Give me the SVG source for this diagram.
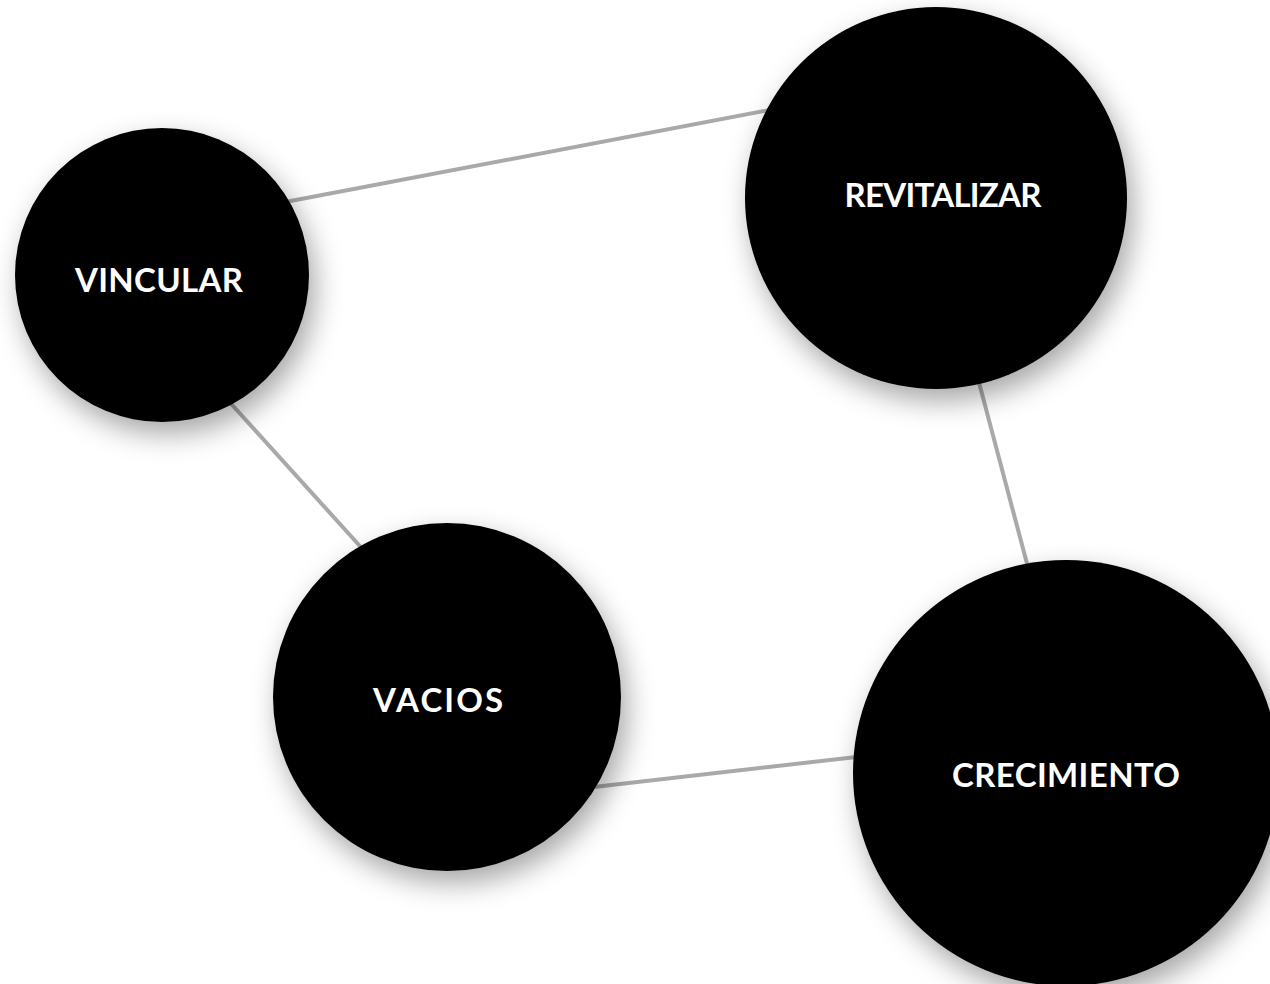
<svg xmlns="http://www.w3.org/2000/svg" width="1270" height="984" viewBox="0 0 1270 984">
<defs>
<filter id="sh" x="-40%" y="-40%" width="180%" height="180%">
<feDropShadow dx="6" dy="12" stdDeviation="14" flood-color="#000" flood-opacity="0.35"/>
</filter>
<style>
.node{fill:#000;filter:url(#sh)}
.lbl{fill:#fff;font-family:Lato,"Liberation Sans",sans-serif;font-weight:700;font-size:33px;text-anchor:middle}
.edge{stroke:#a9a9a9;stroke-width:4;fill:none}
</style>
</defs>
<rect width="1270" height="984" fill="#fff"/>
<g id="connectors">
<line class="edge" x1="280" y1="203" x2="780" y2="108"/>
<line class="edge" x1="225" y1="397" x2="368" y2="555"/>
<line class="edge" x1="977" y1="375" x2="1030" y2="575"/>
<line class="edge" x1="585" y1="788" x2="865" y2="756"/>
</g>
<g id="vincular">
<circle class="node" cx="162" cy="275" r="147"/>
<text class="lbl" x="159" y="292" textLength="168" lengthAdjust="spacing">VINCULAR</text>
</g>
<g id="revitalizar">
<circle class="node" cx="936" cy="198" r="191"/>
<text class="lbl" x="943" y="207" textLength="197" lengthAdjust="spacing">REVITALIZAR</text>
</g>
<g id="vacios">
<circle class="node" cx="447" cy="697" r="174"/>
<text class="lbl" x="438" y="712" textLength="130" lengthAdjust="spacing">VACIOS</text>
</g>
<g id="crecimiento">
<circle class="node" cx="1066" cy="773" r="213"/>
<text class="lbl" x="1066" y="787" textLength="228" lengthAdjust="spacing">CRECIMIENTO</text>
</g>
</svg>
